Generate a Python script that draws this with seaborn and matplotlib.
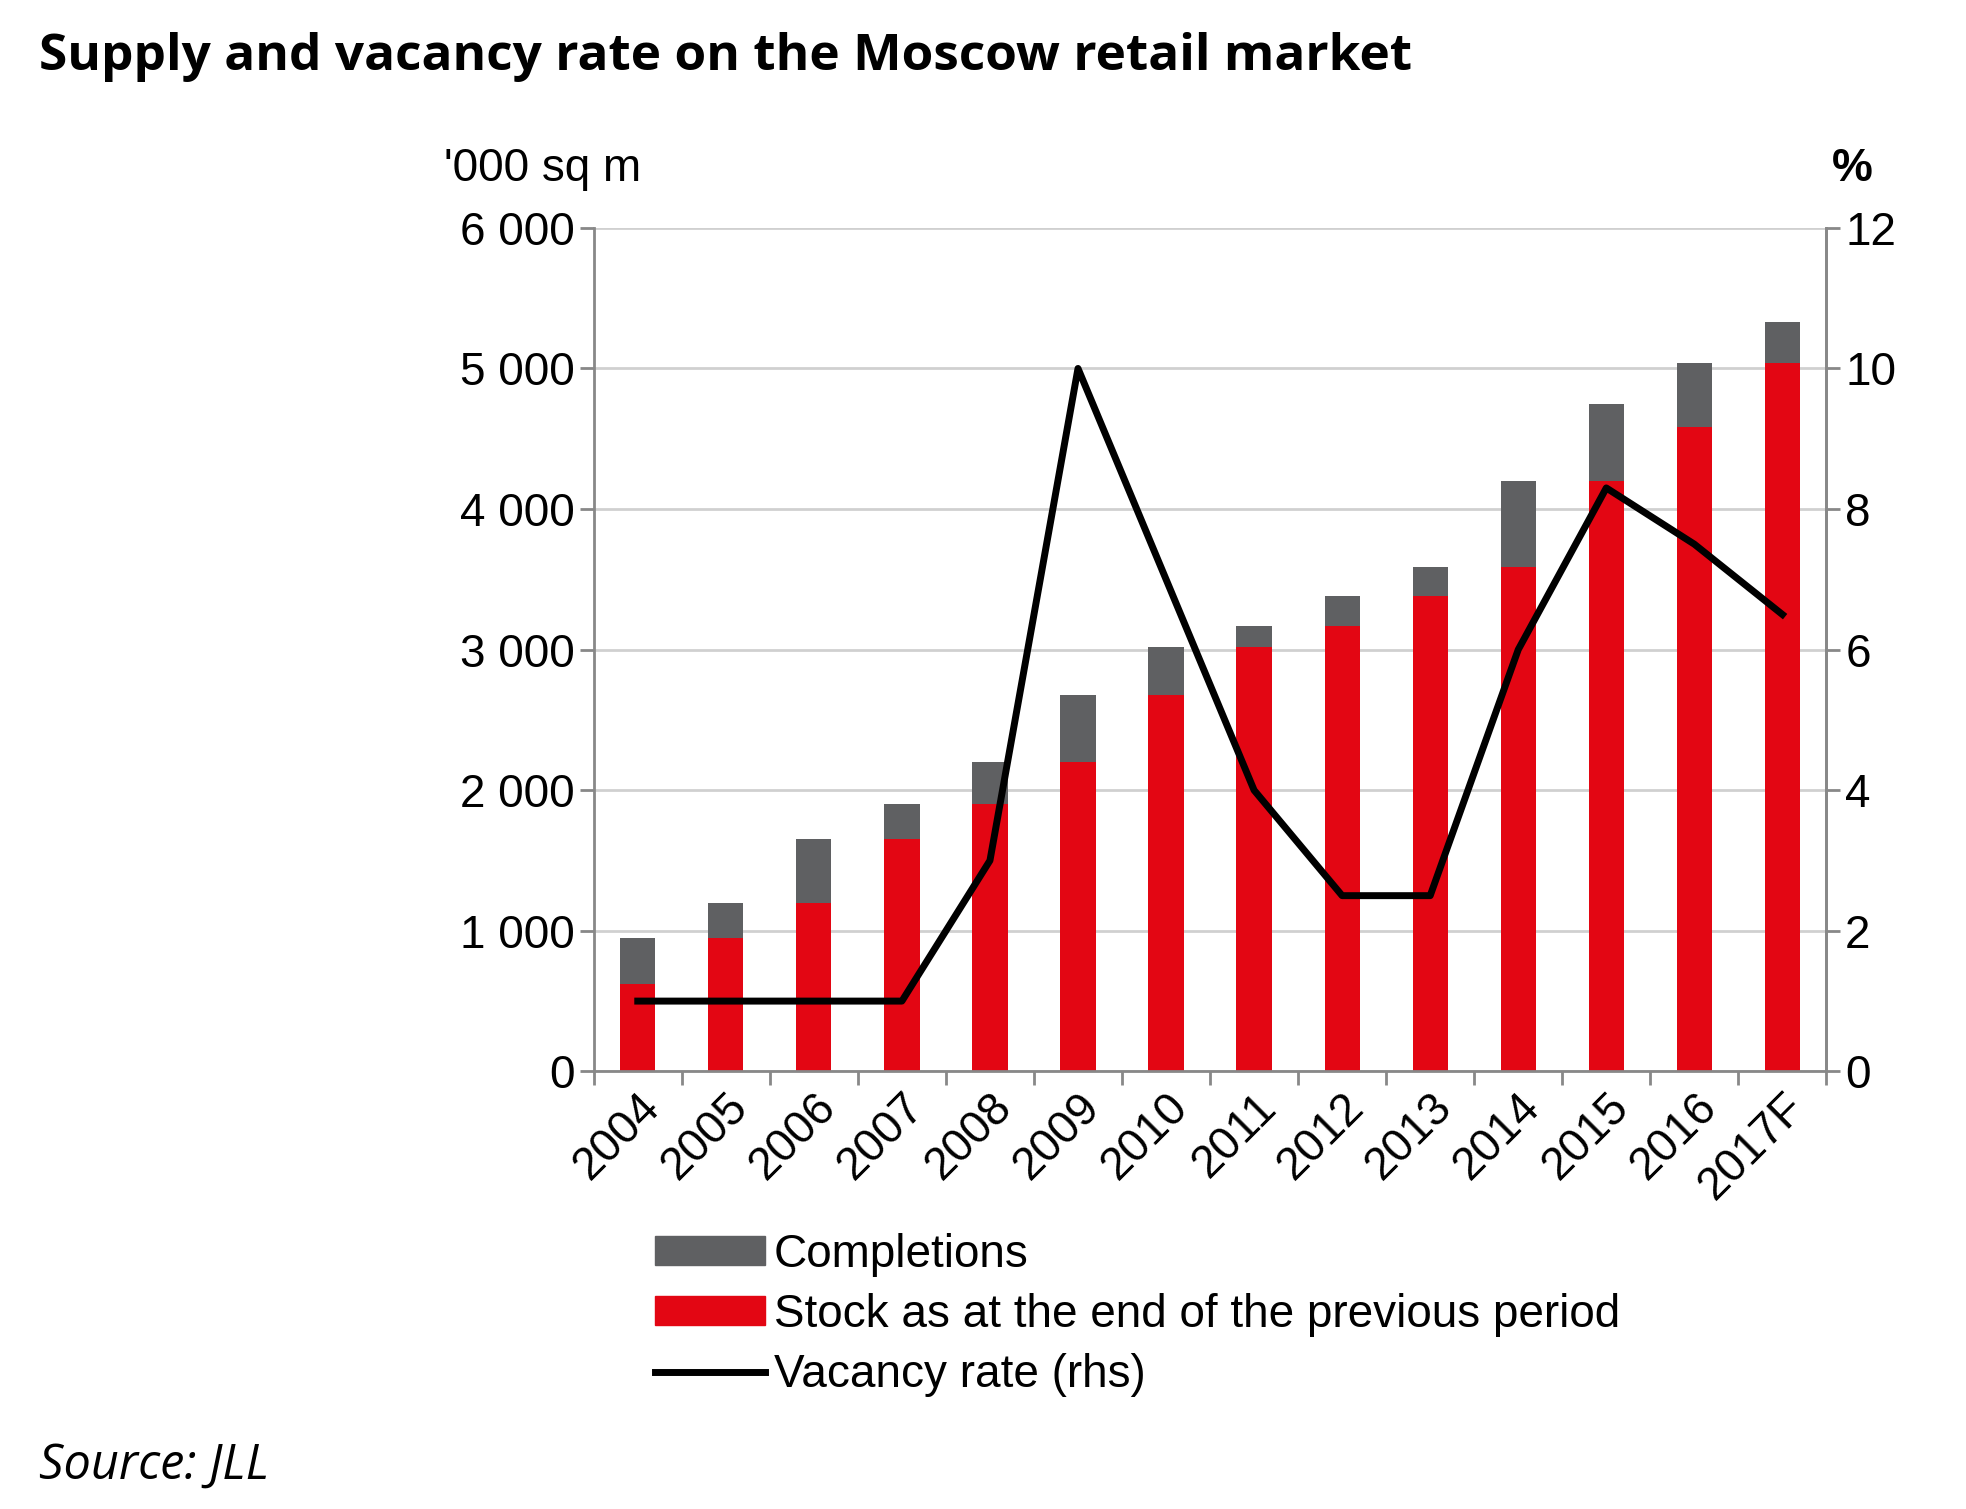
import matplotlib
matplotlib.use("Agg")
import matplotlib.pyplot as plt
import seaborn as sns
import pandas as pd
import numpy as np
from matplotlib.lines import Line2D
from matplotlib.patches import Patch

years = ["2004","2005","2006","2007","2008","2009","2010","2011","2012","2013","2014","2015","2016","2017F"]
stock = [620, 950, 1200, 1650, 1900, 2200, 2680, 3020, 3170, 3380, 3590, 4200, 4580, 5040]
completions = [330, 250, 450, 250, 300, 480, 340, 150, 210, 210, 610, 550, 460, 290]
vacancy = [1, 1, 1, 1, 3, 10, 7, 4, 2.5, 2.5, 6, 8.3, 7.5, 6.5]

total = [s + c for s, c in zip(stock, completions)]
df = pd.DataFrame({"year": years, "stock": stock, "total": total, "vacancy": vacancy})

plt.rcParams["font.family"] = "Liberation Sans"
fig = plt.figure(figsize=(19.66, 15.09), dpi=100)
ax = fig.add_axes([0.302, 0.29, 0.627, 0.559])
GREY = "#5f6062"; RED = "#e30613"
sns.barplot(data=df, x="year", y="total", color=GREY, width=0.4, ax=ax, saturation=1)
sns.barplot(data=df, x="year", y="stock", color=RED, width=0.4, ax=ax, saturation=1)
ax.set_xlim(-0.5, len(years) - 0.5)
ax.set_ylim(0, 6000)
ax.set_yticks(range(0, 6001, 1000))
ax.set_yticklabels(["0", "1 000", "2 000", "3 000", "4 000", "5 000", "6 000"])
ax.yaxis.grid(True, color="#d0d0d0", lw=2)
ax.set_axisbelow(True)
ax.set_xlabel(""); ax.set_ylabel("")
ax.set_xticks(np.arange(len(years)))
ax.set_xticklabels(years, rotation=45, ha="right", rotation_mode="anchor")
ax.tick_params(axis="x", length=0, labelsize=33, pad=10)
ax.set_xticks(np.arange(-0.5, len(years)), minor=True)
ax.tick_params(axis="x", which="minor", length=10, width=2, color="#888888")
ax.tick_params(axis="y", labelsize=33, length=10, width=2, color="#888888")
ax.spines["top"].set_visible(False)
for s in ["left", "right", "bottom"]:
    ax.spines[s].set_color("#888888"); ax.spines[s].set_linewidth(2)

ax2 = ax.twinx()
ax2.plot(np.arange(len(years)), vacancy, color="black", lw=5)
ax2.set_ylim(0, 12)
ax2.set_yticks(range(0, 13, 2))
ax2.tick_params(axis="y", labelsize=33, length=10, width=2, color="#888888")
for s in ["top", "left", "bottom"]:
    ax2.spines[s].set_visible(False)
ax2.spines["right"].set_color("#888888"); ax2.spines["right"].set_linewidth(2)

fig.text(0.02, 0.962, "Supply and vacancy rate on the Moscow retail market", fontsize=37,
         fontweight="bold", family="Open Sans", va="center")
fig.text(0.226, 0.888, "'000 sq m", fontsize=33, va="center")
fig.text(0.932, 0.888, "%", fontsize=33, fontweight="bold", va="center")
fig.text(0.02, 0.02, "Source: JLL", fontsize=35, style="italic", family="Open Sans")

handles = [Patch(color=GREY), Patch(color=RED), Line2D([], [], color="black", lw=5)]
labels = ["Completions", "Stock as at the end of the previous period", "Vacancy rate (rhs)"]
fig.legend(handles, labels, loc="upper left", bbox_to_anchor=(0.333, 0.183), frameon=False,
           fontsize=33, handlelength=2.4, handleheight=0.6, labelspacing=0.35, handletextpad=0.2,
           borderpad=0, borderaxespad=0)
fig.savefig("out.png", dpi=100)
